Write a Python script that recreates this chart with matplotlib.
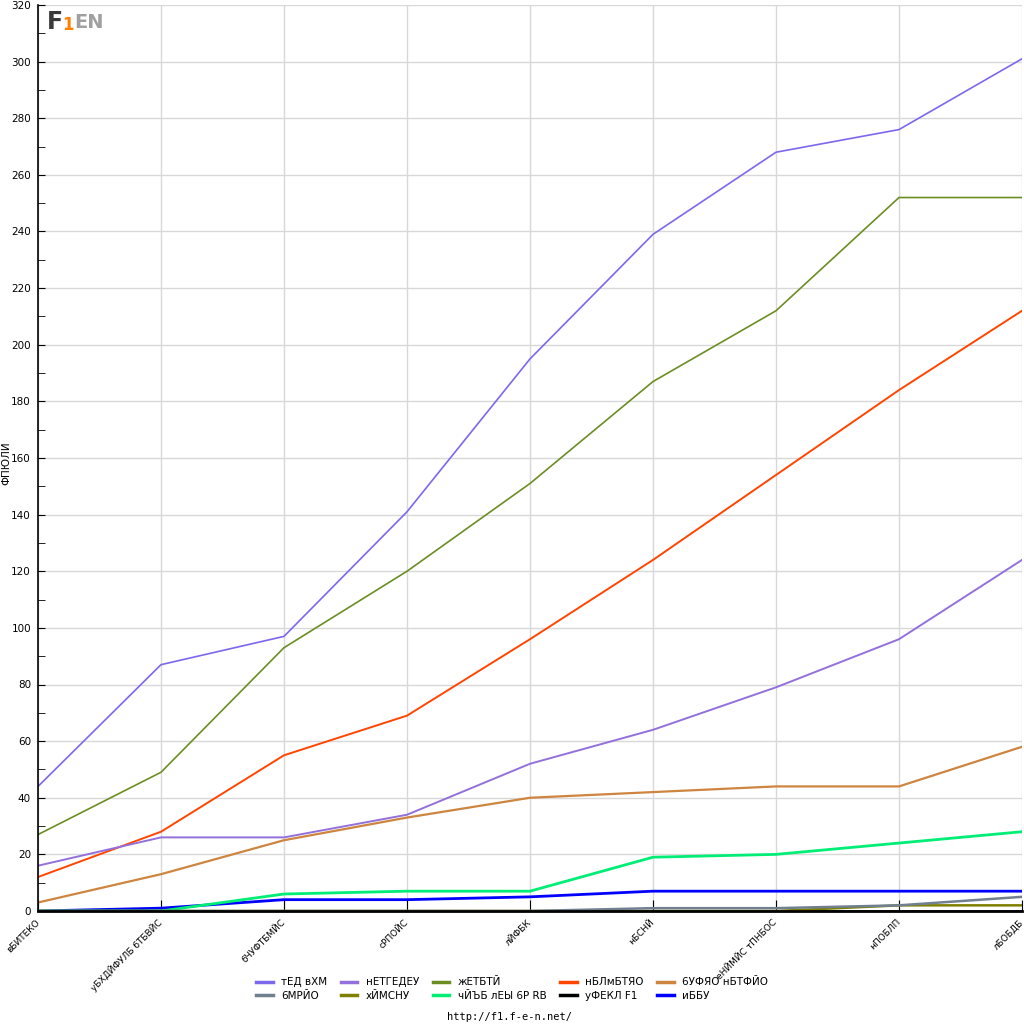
import matplotlib
matplotlib.use("Agg")
import matplotlib.pyplot as plt
from matplotlib.ticker import MultipleLocator

# categories (x axis)
races = ['вБИТЕКО', 'уБХДЙФУЛБ бТБВЙС', 'бЧУФТБМЙС', 'сРПОЙС', 'лЙФБК',
         'нБСНЙ', 'еНЙМЙС тПНБОС', 'нПОБЛП', 'лБОБДБ']

# series
names = ['тЕД вХМ', 'нЕТГЕДЕУ', 'жЕТБТЙ', 'нБЛмБТЯО', '6УФЯО нБТФЙО',
         '6МРЙО', 'хЙМСНУ', 'чЙЪБ лЕЫ 6Р RB', 'уФЕКЛ F1', 'иББУ']
red_bull = [44, 87, 97, 141, 195, 239, 268, 276, 301]
mercedes = [16, 26, 26, 34, 52, 64, 79, 96, 124]
ferrari = [27, 49, 93, 120, 151, 187, 212, 252, 252]
mclaren = [12, 28, 55, 69, 96, 124, 154, 184, 212]
aston = [3, 13, 25, 33, 40, 42, 44, 44, 58]
alpine = [0, 0, 0, 0, 0, 1, 1, 2, 5]
williams = [0, 0, 0, 0, 0, 0, 0, 2, 2]
rb = [0, 0, 6, 7, 7, 19, 20, 24, 28]
sauber = [0, 0, 0, 0, 0, 0, 0, 0, 0]
haas = [0, 1, 4, 4, 5, 7, 7, 7, 7]

series = [red_bull, mercedes, ferrari, mclaren, aston,
          alpine, williams, rb, sauber, haas]
colors = ['#7b68ee', '#9370db', '#6b8e23', '#ff4500', '#cd853f',
          '#708090', '#808000', '#00ee76', '#000000', '#0000ff']
widths = [1.2, 1.4, 1.2, 1.4, 1.6, 1.8, 1.8, 2.0, 1.8, 2.0]

fig = plt.figure(figsize=(10.24, 10.24), dpi=100)
ax = fig.add_axes([38 / 1024, 1 - 911 / 1024, 984 / 1024, 906 / 1024])

x = list(range(len(races)))
handles = {}
# draw in reverse so the first series sits on top
for vals, name, c, w in reversed(list(zip(series, names, colors, widths))):
    handles[name], = ax.plot(x, vals, color=c, lw=w, label=name)

ax.set_xlim(0, len(races) - 1)
ax.set_ylim(0, 320)
ax.yaxis.set_major_locator(MultipleLocator(20))
ax.yaxis.set_minor_locator(MultipleLocator(10))
ax.set_xticks(x)
ax.set_xticklabels(races, rotation=45, ha='right', va='center',
                   rotation_mode='anchor', fontsize=6.5)
ax.tick_params(axis='y', which='major', direction='in', length=5, labelsize=7.5, pad=5)
ax.tick_params(axis='y', which='minor', direction='in', length=5)
ax.tick_params(axis='x', direction='in', length=8, pad=7)
ax.grid(True, color='#d8d8d8', lw=1)
ax.set_axisbelow(True)
for s in ['top', 'right']:
    ax.spines[s].set_visible(False)
ax.spines['bottom'].set_linewidth(2)
ax.spines['left'].set_linewidth(1.2)

fig.text(0.006, 1 - 463 / 1024, 'ФПЮЛИ', rotation=90, va='center', ha='center', fontsize=7.5)

# legend filled row by row (matplotlib fills by column, so reorder)
ncol = 5
order = [r * ncol + c for c in range(ncol) for r in range(2)]
leg = fig.legend([handles[names[i]] for i in order], [names[i] for i in order],
                 ncol=ncol, loc='center', bbox_to_anchor=(512 / 1024, 1 - 989 / 1024),
                 frameon=False, fontsize=7.5, handlelength=1.6, columnspacing=1.3,
                 labelspacing=0.3, handletextpad=0.8)
for line in leg.get_lines():
    line.set_linewidth(2.5)

fig.text(510 / 1024, 1 - 1017 / 1024, 'http://f1.f-e-n.net/', ha='center', va='center',
         fontsize=7.5, family='DejaVu Sans Mono')

# logo
fig.text(47 / 1024, 1 - 22 / 1024, 'F', color='#3a3a3a', fontsize=17, fontweight='bold',
         va='center', ha='left')
fig.text(62 / 1024, 1 - 25 / 1024, '1', color='#ff7f00', fontsize=12, fontweight='bold',
         va='center', ha='left')
fig.text(74 / 1024, 1 - 22 / 1024, 'EN', color='#a0a0a0', fontsize=14, fontweight='bold',
         va='center', ha='left')

fig.savefig('out.png', dpi=100)
